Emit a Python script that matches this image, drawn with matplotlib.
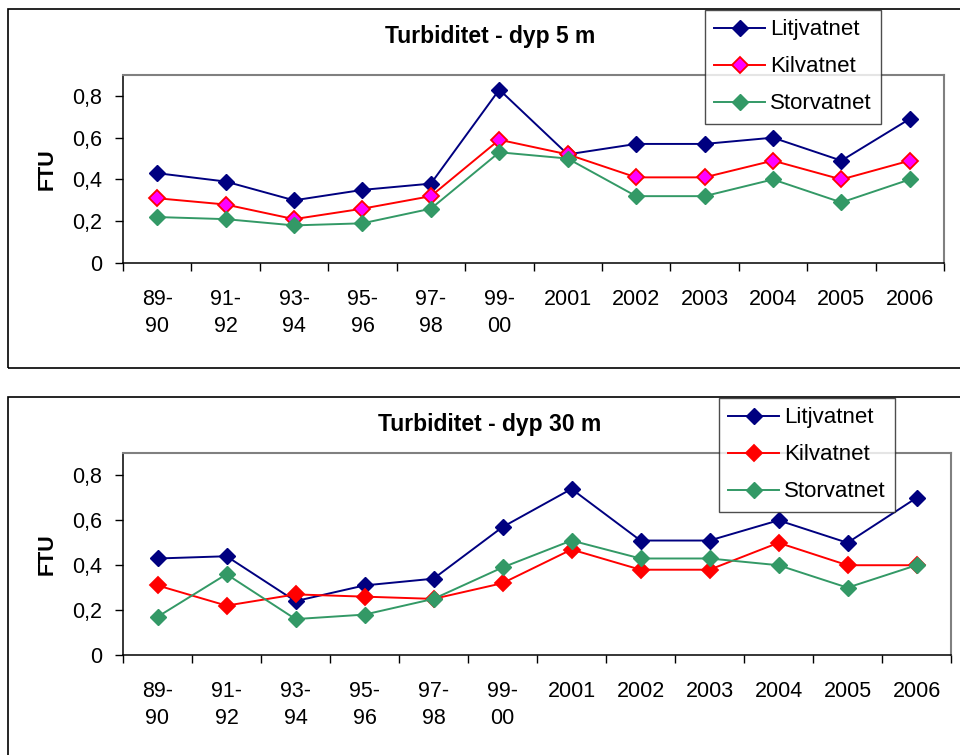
import matplotlib.pyplot as plt
from matplotlib.patches import Rectangle

plt.rcParams['font.family'] = ['Liberation Sans', 'DejaVu Sans']

# Perioder / år
periods = ['89-\n90', '91-\n92', '93-\n94', '95-\n96', '97-\n98', '99-\n00',
           '2001', '2002', '2003', '2004', '2005', '2006']

# Turbiditet (FTU), dyp 5 m
litj_5 = [0.43, 0.39, 0.30, 0.35, 0.38, 0.83, 0.52, 0.57, 0.57, 0.60, 0.49, 0.69]
kil_5 = [0.31, 0.28, 0.21, 0.26, 0.32, 0.59, 0.52, 0.41, 0.41, 0.49, 0.40, 0.49]
stor_5 = [0.22, 0.21, 0.18, 0.19, 0.26, 0.53, 0.50, 0.32, 0.32, 0.40, 0.29, 0.40]

# Turbiditet (FTU), dyp 30 m
litj_30 = [0.43, 0.44, 0.24, 0.31, 0.34, 0.57, 0.74, 0.51, 0.51, 0.60, 0.50, 0.70]
kil_30 = [0.31, 0.22, 0.27, 0.26, 0.25, 0.32, 0.47, 0.38, 0.38, 0.50, 0.40, 0.40]
stor_30 = [0.17, 0.36, 0.16, 0.18, 0.25, 0.39, 0.51, 0.43, 0.43, 0.40, 0.30, 0.40]

NAVY = '#000080'
RED = '#FF0000'
MAGENTA = '#FF00FF'
GREEN = '#339966'

W, H = 960, 755
fig = plt.figure(figsize=(W / 100, H / 100), dpi=100)


def px_box(left, top, right, bottom):
    return [left / W, 1 - bottom / H, (right - left) / W, (bottom - top) / H]


def panel(box, frame, title, title_y, data, kil_face, legend_corner):
    # ramme rundt hele diagrammet
    l, t, r, b = frame
    fig.patches.append(Rectangle((l / W, 1 - b / H), (r - l) / W, (b - t) / H,
                                 transform=fig.transFigure, fill=False,
                                 edgecolor='black', linewidth=1.2))
    ax = fig.add_axes(px_box(*box))
    x = range(len(periods))
    litj, kil, stor = data
    ax.plot(x, litj, color=NAVY, lw=1.4, marker='D', ms=8,
            mfc=NAVY, mec=NAVY, label='Litjvatnet')
    ax.plot(x, kil, color=RED, lw=1.4, marker='D', ms=8,
            mfc=kil_face, mec=RED, mew=1.3, label='Kilvatnet')
    ax.plot(x, stor, color=GREEN, lw=1.4, marker='D', ms=8,
            mfc=GREEN, mec=GREEN, label='Storvatnet')

    ax.set_xlim(-0.5, len(periods) - 0.5)
    ax.set_ylim(0, 0.9)
    ax.set_yticks([0, 0.2, 0.4, 0.6, 0.8])
    ax.set_yticklabels(['0', '0,2', '0,4', '0,6', '0,8'], fontsize=15.5)
    ax.set_xticks(list(x))
    ax.set_xticklabels(periods, fontsize=15.5, linespacing=1.35, va='top')
    ax.set_xticks([i + 0.5 for i in range(-1, len(periods))], minor=True)
    ax.tick_params(axis='x', which='major', length=0, pad=19)
    ax.tick_params(axis='x', which='minor', length=6, width=1, direction='out')
    ax.tick_params(axis='y', length=6, width=1, direction='out', pad=9)

    for side in ('left', 'bottom'):
        ax.spines[side].set_color('black')
        ax.spines[side].set_linewidth(1.1)
    for side in ('top', 'right'):
        ax.spines[side].set_color('#808080')
        ax.spines[side].set_linewidth(1.5)

    ax.set_ylabel('FTU', fontsize=15.5, fontweight='bold')
    ax.yaxis.set_label_coords((58 - box[0]) / (box[2] - box[0]), 0.5)

    fig.text(490 / W, 1 - title_y / H, title, ha='center', va='center',
             fontsize=16.5, fontweight='bold')

    lx, ly = legend_corner
    leg = fig.legend(handles=ax.get_lines(), loc='upper left',
                     bbox_to_anchor=(lx / W, 1 - ly / H),
                     bbox_transform=fig.transFigure,
                     fontsize=16, frameon=True, fancybox=False,
                     handlelength=2.3, handletextpad=0.2, labelspacing=0.72,
                     borderpad=0.42, borderaxespad=0)
    leg.get_frame().set_edgecolor('#202020')
    leg.get_frame().set_linewidth(1.0)
    return ax


panel((123, 75, 944, 263), (8, 9, 970, 368), 'Turbiditet - dyp 5 m', 37,
      (litj_5, kil_5, stor_5), MAGENTA, (705, 10))
panel((123, 453, 951, 655), (8, 397, 970, 770), 'Turbiditet - dyp 30 m', 425,
      (litj_30, kil_30, stor_30), RED, (719, 398))

fig.savefig('out.png', dpi=100)
